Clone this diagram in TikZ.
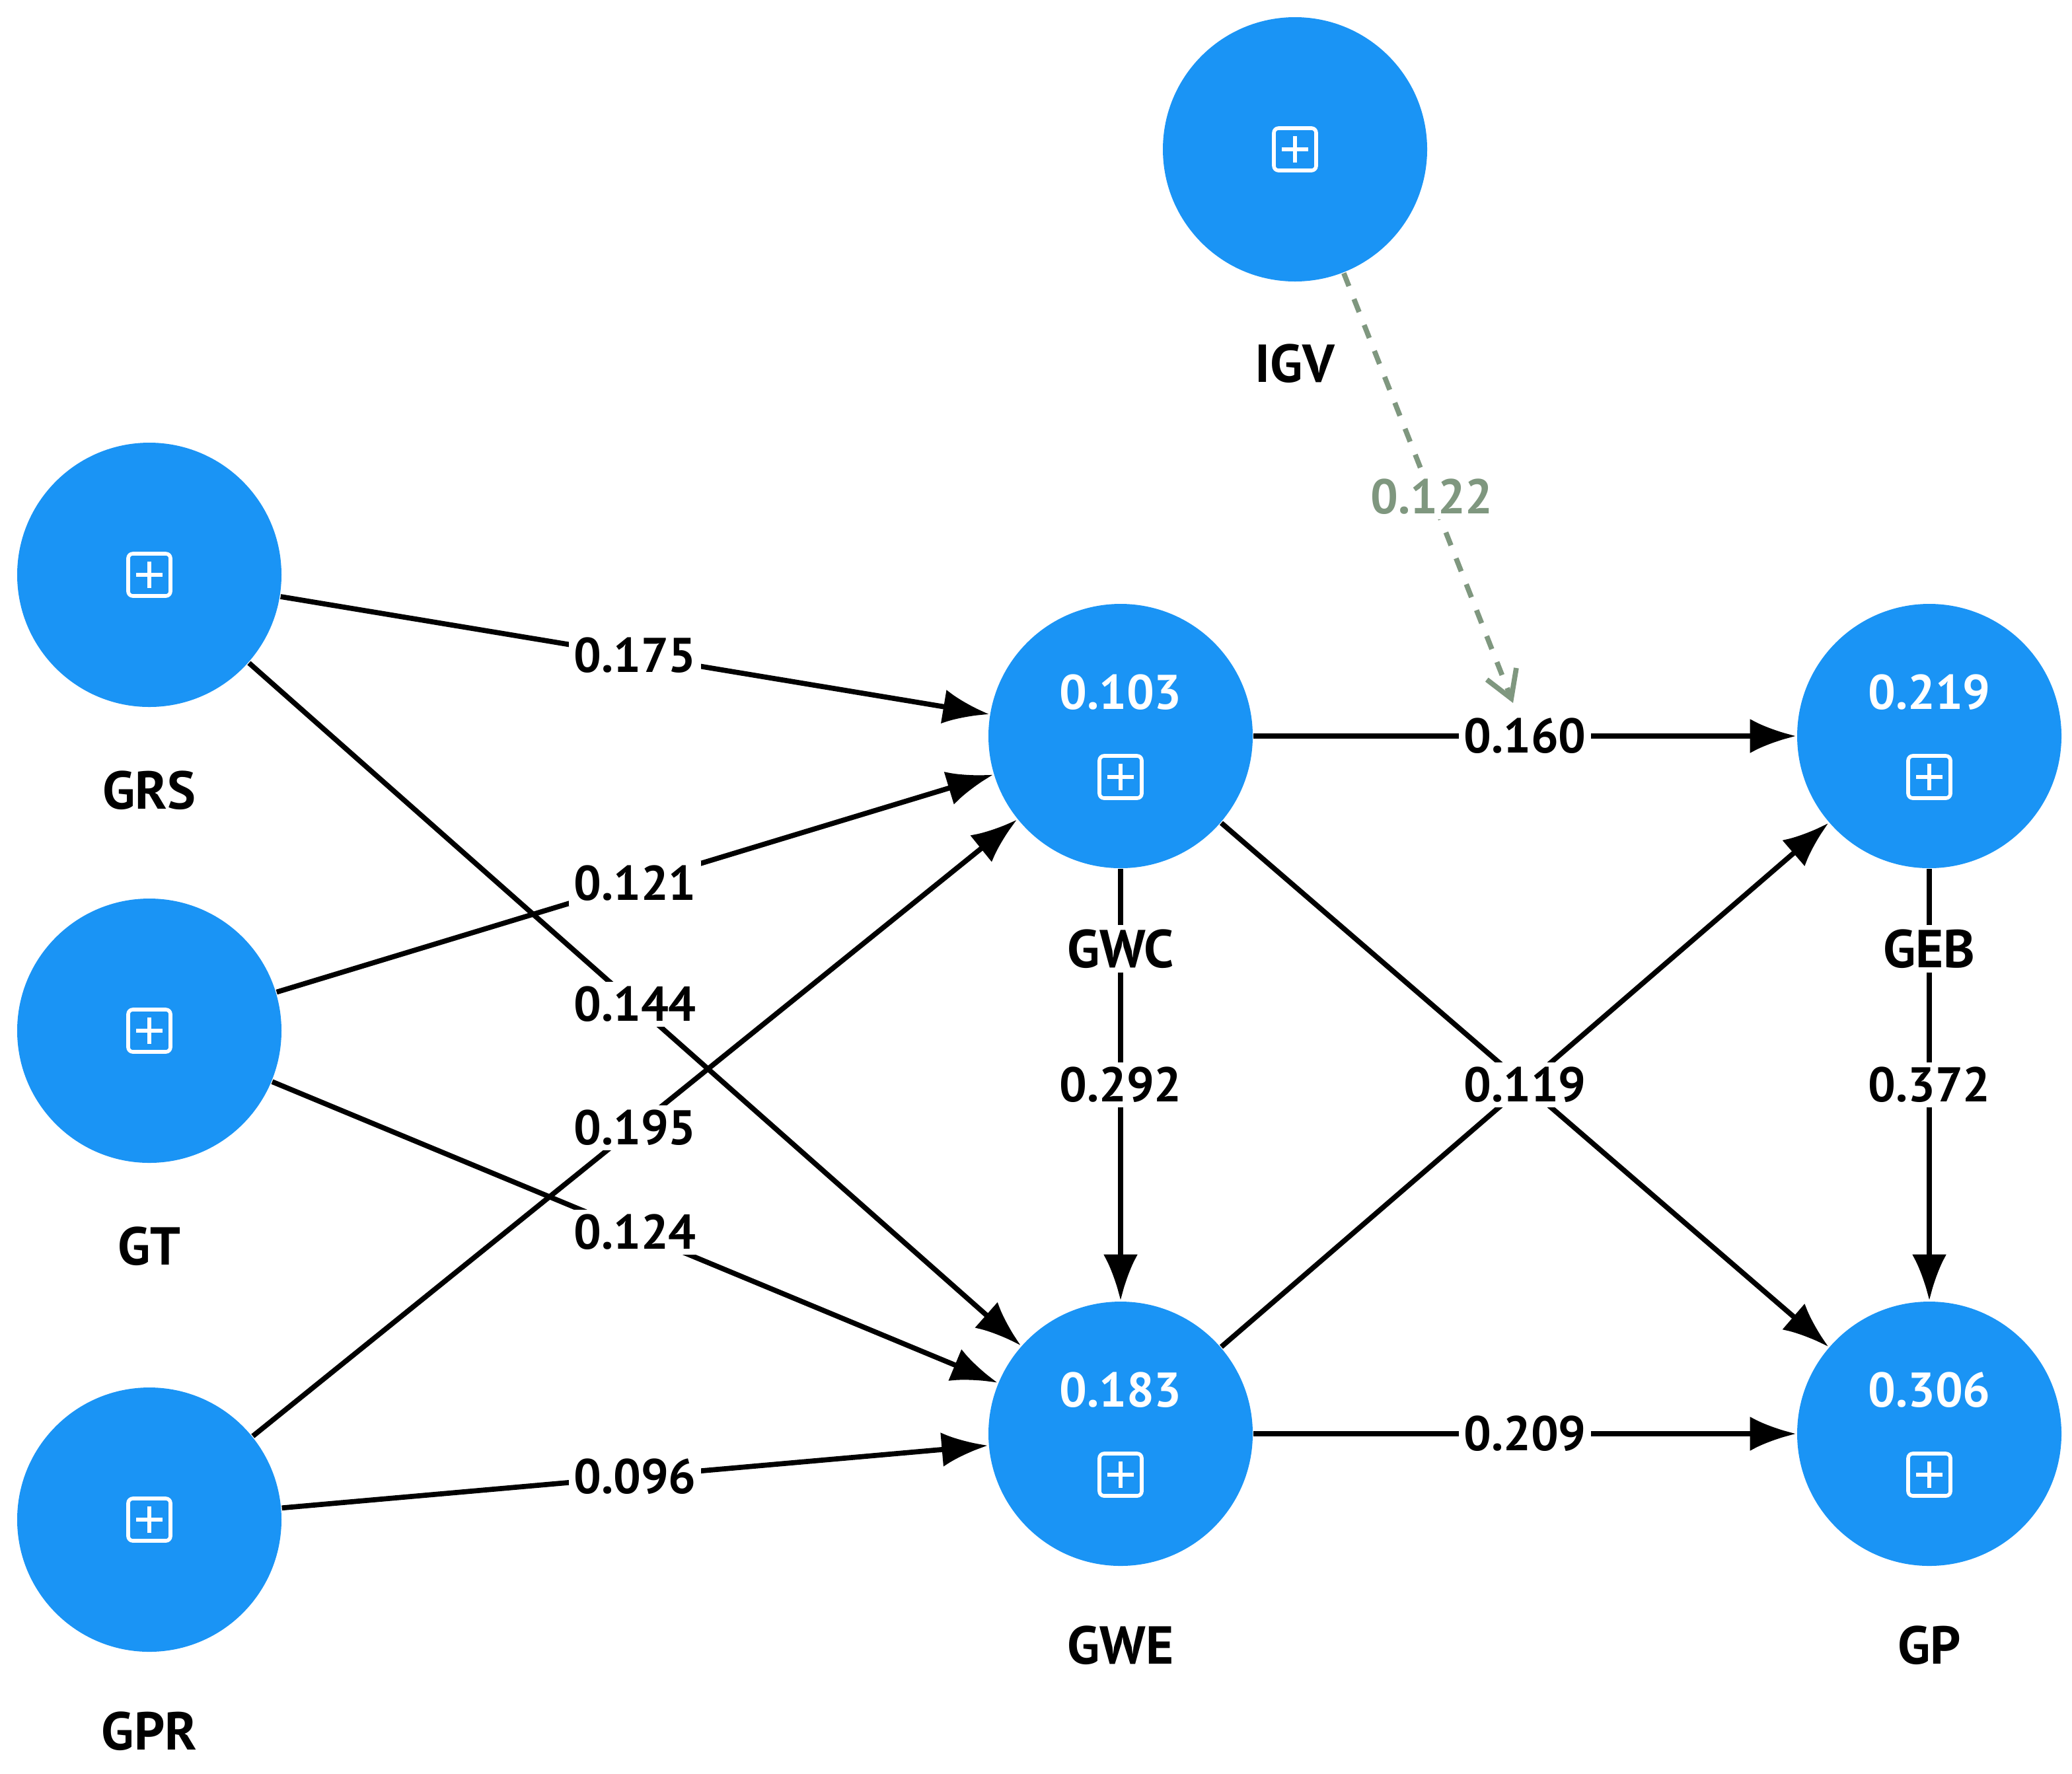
\documentclass[tikz,border=0pt]{standalone}
\usepackage{fontspec}
\setmainfont{PT Sans}
\usetikzlibrary{arrows.meta,positioning}

\begin{document}
\begin{tikzpicture}[
  lv/.style={circle,fill=lvblue,minimum size=2cm,inner sep=0pt},
  pbox/.style={draw=white,line width=0.8pt,rounded corners=1pt,minimum size=0.32cm,inner sep=0pt,
    path picture={\draw[white,line width=0.8pt] (path picture bounding box.north) ++(0,-0.06) -- ++(0,-0.2)
      (path picture bounding box.west) ++(0.06,0) -- ++(0.2,0);}},
  lname/.style={fill=white,inner sep=1pt,font=\fontsize{11.5}{14}\selectfont\bfseries},
  r2/.style={text=white,font=\fontsize{10.5}{13}\selectfont\bfseries},
  path/.style={-{Latex[length=3.5mm,width=2.6mm]},line width=1.1pt},
  coef/.style={fill=white,inner sep=1pt,font=\fontsize{10.5}{13}\selectfont\bfseries}
]
  \definecolor{lvblue}{HTML}{1A94F5}
  \definecolor{modgreen}{HTML}{7F977F}
  \useasboundingbox (0,0) rectangle (15.68,-13.42);

  % exogenous constructs
  \node[lv] (IGV) at (9.80,-1.13) {};
  \node[lv] (GRS) at (1.13,-4.35) {};
  \node[lv] (GT)  at (1.13,-7.80) {};
  \node[lv] (GPR) at (1.13,-11.50) {};
  \foreach \n in {IGV,GRS,GT,GPR}
    \node[pbox] at (\n) {};

  % endogenous constructs
  \node[lv] (GWC) at (8.48,-5.57) {};
  \node[lv] (GWE) at (8.48,-10.85) {};
  \node[lv] (GEB) at (14.60,-5.57) {};
  \node[lv] (GP)  at (14.60,-10.85) {};
  \foreach \n/\v in {GWC/0.103,GWE/0.183,GEB/0.219,GP/0.306}{
    \node[pbox] at ([yshift=-0.31cm]\n.center) {};
    \node[r2] at ([yshift=0.33cm]\n.center) {\v};
  }

  % paths
  \draw[path] (GRS) -- node[coef] {0.175} (GWC);
  \draw[path] (GRS) -- node[coef] {0.144} (GWE);
  \draw[path] (GT) -- node[coef] {0.121} (GWC);
  \draw[path] (GT) -- node[coef] {0.124} (GWE);
  \draw[path] (GPR) -- node[coef] {0.195} (GWC);
  \draw[path] (GPR) -- node[coef] {0.096} (GWE);
  \draw[path] (GWC) -- node[coef] {0.160} (GEB);
  \draw[path] (GWC) -- node[coef] {0.292} (GWE);
  \draw[path] (GWE) -- (GEB);
  \draw[path] (GWC) -- node[coef] {0.119} (GP);
  \draw[path] (GEB) -- node[coef] {0.372} (GP);
  \draw[path] (GWE) -- node[coef] {0.209} (GP);

  % moderating effect
  \coordinate (mod) at (11.45,-5.32);
  \draw[modgreen,line width=1.1pt,dashed,-{Straight Barb[length=2mm,width=2.4mm]}]
    (IGV) -- node[coef,text=modgreen,pos=0.52] {0.122} (mod);

  % names
  \node[lname] at (9.80,-2.75) {IGV};
  \node[lname] at (1.13,-5.98) {GRS};
  \node[lname] at (1.13,-9.43) {GT};
  \node[lname] at (1.13,-13.10) {GPR};
  \node[lname] at (8.48,-7.18) {GWC};
  \node[lname] at (8.48,-12.45) {GWE};
  \node[lname] at (14.60,-7.18) {GEB};
  \node[lname] at (14.60,-12.45) {GP};
\end{tikzpicture}
\end{document}
